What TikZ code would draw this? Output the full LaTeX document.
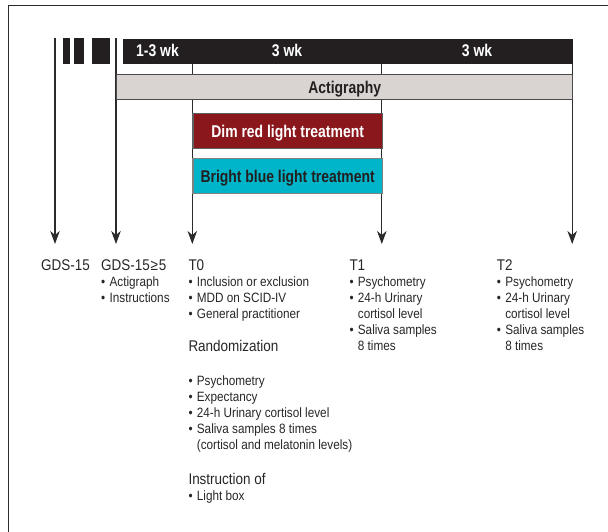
\documentclass[tikz,border=0pt]{standalone}
\usepackage{fontspec}
\setmainfont[FakeStretch=0.87]{Liberation Sans}
\newfontfamily\barfont[FakeStretch=0.82]{Liberation Sans}
\usetikzlibrary{arrows.meta}
\definecolor{barblack}{HTML}{231F20}
\definecolor{actigray}{HTML}{D9D4D2}
\definecolor{dimred}{HTML}{8A171B}
\definecolor{brightblue}{HTML}{00B5C9}
\definecolor{linegray}{HTML}{2B2B2B}
\definecolor{txtgray}{HTML}{262626}
\newcommand\mybul{\makebox[8.4pt][l]{•}}
\newcommand\myind{\hspace*{8.4pt}}
\newcommand\myhd{\fontsize{15.5}{16}\selectfont}
\tikzset{
  conn/.style={draw=linegray, line width=1.1pt},
  arr/.style={conn, -{Stealth[length=13pt,width=9.5pt,inset=4pt]}},
  boxbase/.style={inner sep=0pt, anchor=north west, line width=1.2pt,
    text height=12.2pt, text depth=0pt,
    font=\barfont\bfseries\fontsize{17}{18}\selectfont},
  barbox/.style={boxbase, fill=barblack, draw=none},
  bartext/.style={inner sep=0pt, text=white, text height=12.2pt, text depth=0pt,
    font=\barfont\bfseries\fontsize{17}{18}\selectfont},
  actibox/.style={boxbase, fill=actigray, draw=linegray!85, text=barblack},
  redbox/.style={boxbase, fill=dimred, draw=linegray!75, text=white},
  bluebox/.style={boxbase, fill=brightblue, draw=linegray!60, text=barblack},
  dashblk/.style={fill=barblack, draw=none},
  txt/.style={inner sep=0pt, anchor=base west, text=txtgray,
    font=\fontsize{13.5}{16}\selectfont},
}
\begin{document}
\begin{tikzpicture}[x=1pt, y=-1pt]
\useasboundingbox (0,0) rectangle (608,532);
% frame (top and left edges)
\draw[conn] (8.5,532) -- (8.5,5.5) -- (608,5.5);

% dashes
\fill[dashblk] (62.7,38) rectangle (70,63.7);
\fill[dashblk] (74.3,38) rectangle (84.3,63.7);
\fill[dashblk] (91.7,38) rectangle (110,63.7);

% coordinates for line tops and arrow tips
\coordinate (a0) at (55,38);
\coordinate (b0) at (116,38);
\coordinate (c0) at (192.3,63.5);
\coordinate (d0) at (381.8,63.5);
\coordinate (e0) at (572.2,63.5);
\coordinate (a1) at (55,244);
\coordinate (b1) at (116,244);
\coordinate (c1) at (192.3,244);
\coordinate (d1) at (381.8,244);
\coordinate (e1) at (572.2,244);

\draw[arr] (a0) -- (a1);
\draw[arr] (b0) -- (b1);
\draw[arr] (c0) -- (c1);
\draw[arr] (d0) -- (d1);
\draw[arr] (e0) -- (e1);

% black bar
\node[barbox, minimum width=449.5pt, minimum height=25.7pt] (bar) at (122.7,38) {};
\node[bartext] (w1) at (157.5,50.8) {1-3 wk};
\node[bartext] (w2) at (287,50.8) {3 wk};
\node[bartext] (w3) at (477,50.8) {3 wk};

% boxes
\node[actibox, minimum width=456.2pt, minimum height=24.7pt] (acti) at (116,74.3) {Actigraphy};
\node[redbox, minimum width=189.5pt, minimum height=35pt] (red) at (192.3,113.3) {Dim red light treatment};
\node[bluebox, minimum width=189.5pt, minimum height=34.4pt] (blue) at (192.3,158.3) {Bright blue light treatment};

% text blocks
\node[txt] (gds) at (41,270) {\myhd GDS-15};
\node[txt] (gds5) at (101,270) {\begin{tabular}[t]{@{}l@{}}
  \myhd GDS-15\kern0.8pt≥\kern0.8pt5\\
  \mybul Actigraph\\
  \mybul Instructions
\end{tabular}};
\node[txt] (t0) at (188.3,270) {\begin{tabular}[t]{@{}l@{}}
  \myhd T0\\
  \mybul Inclusion or exclusion\\
  \mybul MDD on SCID-IV\\
  \mybul General practitioner
\end{tabular}};
\node[txt] (rand) at (188.3,351.7) {\myhd Randomization};
\node[txt] (randl) at (188.3,385) {\begin{tabular}[t]{@{}l@{}}
  \mybul Psychometry\\
  \mybul Expectancy\\
  \mybul 24-h Urinary cortisol level\\
  \mybul Saliva samples 8 times\\
  \myind (cortisol and melatonin levels)
\end{tabular}};
\node[txt] (instr) at (188.3,484) {\begin{tabular}[t]{@{}l@{}}
  \myhd Instruction of\\
  \mybul Light box
\end{tabular}};
\node[txt] (t1) at (349.3,270) {\begin{tabular}[t]{@{}l@{}}
  \myhd T1\\
  \mybul Psychometry\\
  \mybul 24-h Urinary\\
  \myind cortisol level\\
  \mybul Saliva samples\\
  \myind 8 times
\end{tabular}};
\node[txt] (t2) at (496.7,270) {\begin{tabular}[t]{@{}l@{}}
  \myhd T2\\
  \mybul Psychometry\\
  \mybul 24-h Urinary\\
  \myind cortisol level\\
  \mybul Saliva samples\\
  \myind 8 times
\end{tabular}};
\end{tikzpicture}
\end{document}
